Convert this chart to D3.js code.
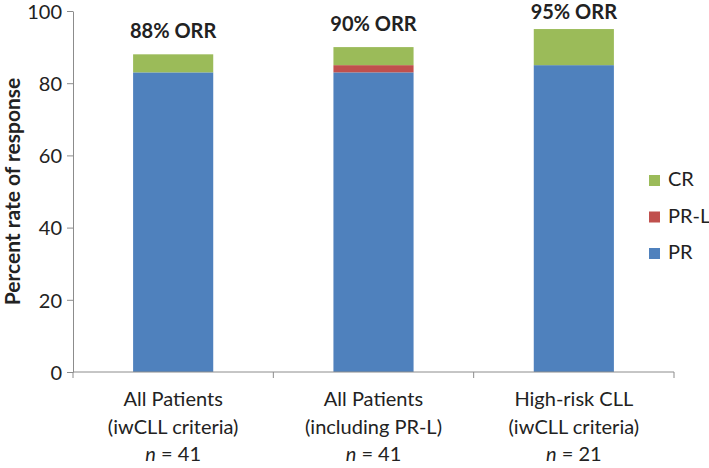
<!DOCTYPE html>
<html>
<head>
<meta charset="utf-8">
<script src="https://cdn.jsdelivr.net/npm/d3@7"></script>
<style>
  html, body { margin: 0; padding: 0; background: #fff; }
  svg text { font-family: Lato, "Open Sans", "Liberation Sans", sans-serif; fill: #222; }
</style>
</head>
<body>
<svg id="chart" width="709" height="468"></svg>
<script>
const categories = [
  ["All Patients", "(iwCLL criteria)", "41"],
  ["All Patients", "(including PR-L)", "41"],
  ["High-risk CLL", "(iwCLL criteria)", "21"]
];
const seriesNames = ["PR", "PR-L", "CR"];
const prValues = [83, 83, 85];
const prlValues = [0, 2, 0];
const crValues = [5, 5, 10];
const orrLabels = ["88% ORR", "90% ORR", "95% ORR"];
const yTicks = [0, 20, 40, 60, 80, 100];
const colors = { "PR": "#4f81bd", "PR-L": "#c0504d", "CR": "#9bbb59" };

(function () {
const svg = d3.select("#chart");
const mLeft = 73, mRight = 674, mTop = 11, mBottom = 372;

const x = d3.scaleBand().domain(d3.range(categories.length)).range([mLeft, mRight])
  .paddingInner(0.6).paddingOuter(0.3);
const y = d3.scaleLinear().domain([0, 100]).range([mBottom, mTop]);

const rows = categories.map((c, i) => ({ i, "PR": prValues[i], "PR-L": prlValues[i], "CR": crValues[i] }));
const stack = d3.stack().keys(seriesNames)(rows);

// bars
svg.append("g").selectAll("g").data(stack).join("g")
  .attr("fill", d => colors[d.key])
  .selectAll("rect").data(d => d).join("rect")
  .attr("x", d => x(d.data.i))
  .attr("width", x.bandwidth())
  .attr("y", d => y(d[1]))
  .attr("height", d => y(d[0]) - y(d[1]));

// y axis
const yAxis = svg.append("g").attr("transform", `translate(${mLeft},0)`)
  .call(d3.axisLeft(y).tickValues(yTicks).tickSize(6).tickSizeOuter(0).tickPadding(5));
yAxis.select(".domain").attr("stroke", "#8c8c8c");
yAxis.selectAll(".tick line").attr("stroke", "#8c8c8c");
yAxis.selectAll(".tick text").style("font-size", "20px").attr("fill", "#222").attr("dy", "0.36em");

// x axis line with band-boundary ticks
const xAxisG = svg.append("g");
xAxisG.append("line").attr("x1", mLeft).attr("x2", mRight).attr("y1", mBottom).attr("y2", mBottom)
  .attr("stroke", "#8c8c8c");
const bounds = [mLeft].concat(d3.range(categories.length).map(i => x(i) + x.bandwidth() / 2 + x.step() / 2));
xAxisG.selectAll("line.t").data(bounds).join("line").attr("class", "t")
  .attr("x1", d => d).attr("x2", d => d).attr("y1", mBottom).attr("y2", mBottom + 6)
  .attr("stroke", "#8c8c8c");

// category labels
const labG = svg.append("g");
categories.forEach((c, i) => {
  const cx = x(i) + x.bandwidth() / 2;
  labG.append("text").attr("x", cx).attr("y", 406).attr("text-anchor", "middle")
    .style("font-size", "20px").text(c[0]);
  labG.append("text").attr("x", cx).attr("y", 434).attr("text-anchor", "middle")
    .style("font-size", "20px").text(c[1]);
  const t = labG.append("text").attr("x", cx).attr("y", 461).attr("text-anchor", "middle")
    .style("font-size", "20px");
  t.append("tspan").style("font-style", "italic").text("n");
  t.append("tspan").text(" = " + c[2]);
});

// ORR labels
svg.append("g").selectAll("text").data(rows).join("text")
  .attr("x", d => x(d.i) + x.bandwidth() / 2)
  .attr("y", d => Math.max(y(d["PR"] + d["PR-L"] + d["CR"]) - 16, 19))
  .attr("text-anchor", "middle")
  .style("font-size", "20px").style("font-weight", "bold")
  .text((d, i) => orrLabels[i]);

// y-axis title
svg.append("text")
  .attr("transform", `translate(20,${(mTop + mBottom) / 2}) rotate(-90)`)
  .attr("text-anchor", "middle")
  .style("font-size", "21px").style("font-weight", "bold")
  .text("Percent rate of response");

// legend
const legendItems = ["CR", "PR-L", "PR"];
const lg = svg.append("g").attr("transform", "translate(649,175)");
legendItems.forEach((k, i) => {
  const g = lg.append("g").attr("transform", `translate(0,${i * 36.5})`);
  g.append("rect").attr("width", 11).attr("height", 11).attr("fill", colors[k]);
  g.append("text").attr("x", 19).attr("y", 11).style("font-size", "20px").text(k);
});
})();
</script>
</body>
</html>
